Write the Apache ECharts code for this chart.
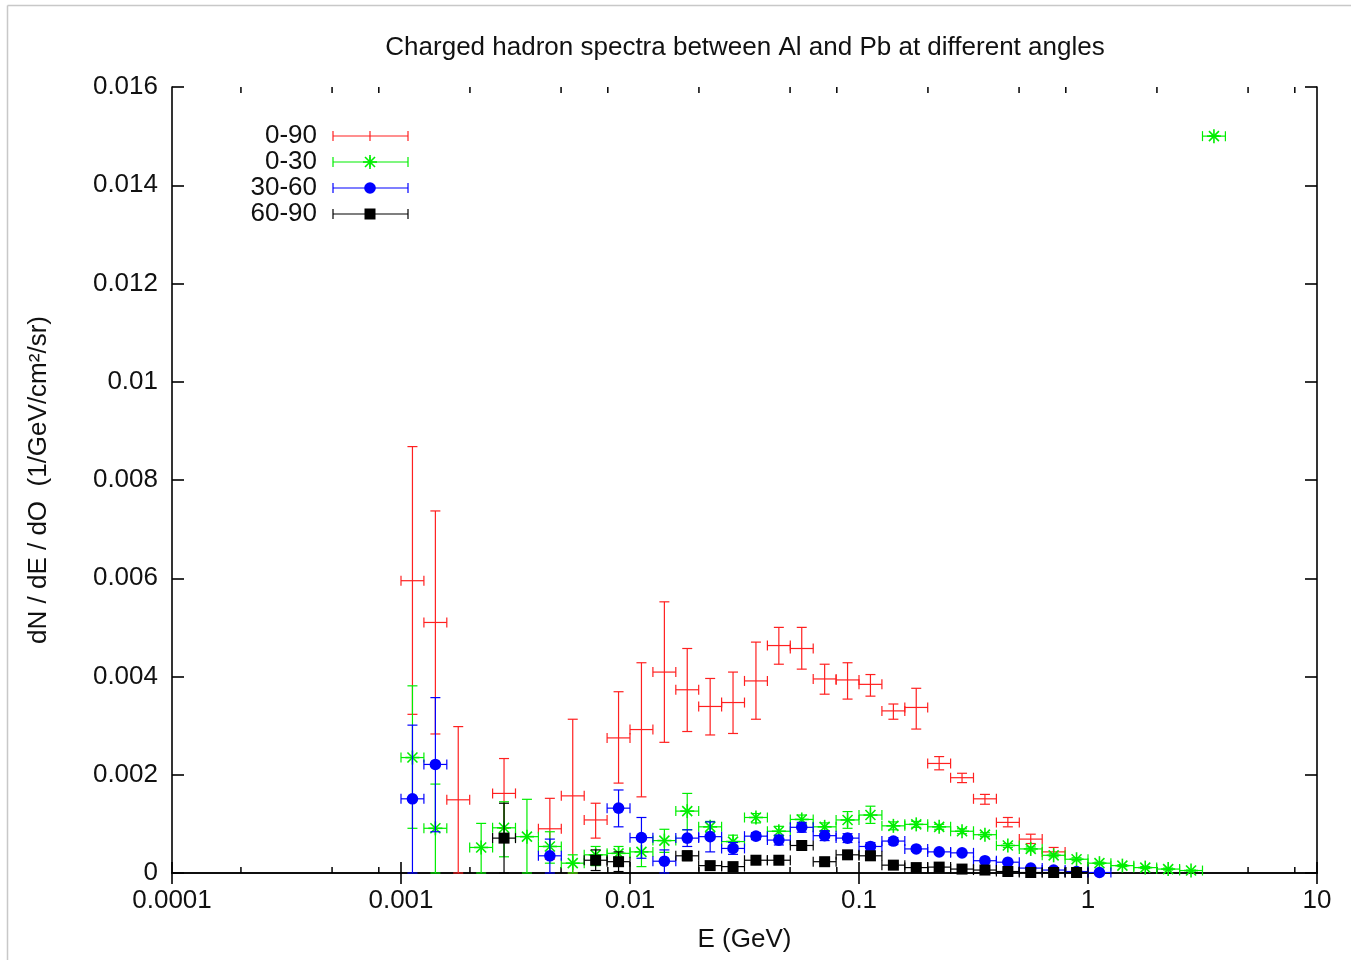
<!DOCTYPE html>
<html>
<head>
<meta charset="utf-8">
<title>Charged hadron spectra</title>
<script src="https://cdn.jsdelivr.net/npm/echarts@6/dist/echarts.min.js"></script>
<style>
  html, body { margin: 0; padding: 0; background: #fff; }
  #main { width: 1351px; height: 960px; }
</style>
</head>
<body>
<div id="main"></div>
<script>
// energy bins (GeV): centre and edges of each bin
var binCenter = [0.001122, 0.001413, 0.001778, 0.002239, 0.002818, 0.003548, 0.004467, 0.005623, 0.007079, 0.008913,
                 0.01122, 0.01413, 0.01778, 0.02239, 0.02818, 0.03548, 0.04467, 0.05623, 0.07079, 0.08913,
                 0.1122, 0.1413, 0.1778, 0.2239, 0.2818, 0.3548, 0.4467, 0.5623, 0.7079, 0.8913,
                 1.122, 1.413, 1.778, 2.239, 2.818, 3.548];
var binEdges = [0.001, 0.001259, 0.001585, 0.001995, 0.002512, 0.003162, 0.003981, 0.005012, 0.00631, 0.007943,
                0.01, 0.01259, 0.01585, 0.01995, 0.02512, 0.03162, 0.03981, 0.05012, 0.0631, 0.07943,
                0.1, 0.1259, 0.1585, 0.1995, 0.2512, 0.3162, 0.3981, 0.5012, 0.631, 0.7943,
                1, 1.259, 1.585, 1.995, 2.512, 3.162, 3.981];

// 0-90
var red_y  = [0.00595, 0.00510, 0.00149, null, 0.00162, null, 0.00090, 0.00157, 0.00108, 0.00275,
              0.00292, 0.00409, 0.00373, 0.00339, 0.00347, 0.00391, 0.00463, 0.00457, 0.00395, 0.00393,
              0.00384, 0.00330, 0.00337, 0.00223, 0.00194, 0.00151, 0.00103, 0.00069, 0.00043];
var red_lo = [0.00323, 0.00283, 0, null, 0.00091, null, 0.00028, 0, 0.00071, 0.00183,
              0.00155, 0.00266, 0.00288, 0.00281, 0.00284, 0.00313, 0.00425, 0.00415, 0.00364, 0.00354,
              0.00360, 0.00313, 0.00293, 0.00210, 0.00184, 0.00140, 0.00094, 0.00060, 0.00036];
var red_hi = [0.00868, 0.00737, 0.00298, null, 0.00233, null, 0.00152, 0.00313, 0.00142, 0.00369,
              0.00428, 0.00552, 0.00457, 0.00396, 0.00409, 0.00470, 0.00500, 0.00500, 0.00425, 0.00428,
              0.00404, 0.00344, 0.00376, 0.00237, 0.00203, 0.00160, 0.00113, 0.00079, 0.00052];

// 0-30
var green_y  = [0.00235, 0.00091, null, 0.00052, 0.00092, 0.00074, 0.00054, 0.00020, 0.00037, 0.00040,
                0.00043, 0.00066, 0.00126, 0.00094, 0.00064, 0.00113, 0.00085, 0.00109, 0.00094, 0.00108,
                0.00118, 0.00096, 0.00099, 0.00094, 0.00085, 0.00078, 0.00056, 0.00049, 0.00036, 0.00028,
                0.00020, 0.00015, 0.00011, 0.00008, 0.00005, 0.01500];
var green_lo = [0.00091, 0, null, 0, 0.00033, 0, 0.00020, 0, 0.00015, 0.00020,
                0.00013, 0.00042, 0.00088, 0.00083, 0.00054, 0.00102, 0.00075, 0.00098, 0.00086, 0.00091,
                0.00101, 0.00088, 0.00093, 0.00089, 0.00080, 0.00074, 0.00052, 0.00045, 0.00033, 0.00025,
                0.00018, 0.00013, 0.00009, 0.00006, 0.00004, 0.01500];
var green_hi = [0.00381, 0.00181, null, 0.00101, 0.00145, 0.00150, 0.00084, 0.00037, 0.00054, 0.00054,
                0.00074, 0.00089, 0.00162, 0.00105, 0.00077, 0.00121, 0.00095, 0.00118, 0.00102, 0.00125,
                0.00136, 0.00104, 0.00105, 0.00099, 0.00090, 0.00082, 0.00060, 0.00053, 0.00039, 0.00031,
                0.00022, 0.00017, 0.00013, 0.00010, 0.00006, 0.01500];

// 30-60
var blue_y  = [0.00151, 0.00221, null, null, null, null, 0.00035, null, null, 0.00132,
               0.00072, 0.00024, 0.00071, 0.00074, 0.00050, 0.00075, 0.00067, 0.00093, 0.00076, 0.00071,
               0.00054, 0.00065, 0.00049, 0.00043, 0.00041, 0.00025, 0.00022, 0.00010, 0.00006, 0.00003,
               0.00001];
var blue_lo = [0, 0.00084, null, null, null, null, 0, null, null, 0.00094,
               0.00030, 0, 0.00054, 0.00043, 0.00038, 0.00068, 0.00057, 0.00083, 0.00066, 0.00062,
               0.00046, 0.00058, 0.00044, 0.00039, 0.00037, 0.00022, 0.00019, 0.00008, 0.00005, 0.00002,
               0.00001];
var blue_hi = [0.00301, 0.00357, null, null, null, null, 0.00069, null, null, 0.00169,
               0.00113, 0.00047, 0.00088, 0.00104, 0.00062, 0.00082, 0.00077, 0.00103, 0.00086, 0.00080,
               0.00062, 0.00072, 0.00054, 0.00047, 0.00045, 0.00028, 0.00025, 0.00012, 0.00007, 0.00004,
               0.00001];

// 60-90
var black_y  = [null, null, null, null, 0.00071, null, null, null, 0.00026, 0.00023,
                null, null, 0.00035, 0.00015, 0.00013, 0.00026, 0.00026, 0.00056, 0.00023, 0.00037,
                0.00035, 0.00016, 0.00011, 0.00012, 0.00008, 0.00006, 0.00003, 0.00001, 0.00001, 0.00001];
var black_lo = [null, null, null, null, 0, null, null, null, 0.00005, 0.00003,
                null, null, 0.00025, 0.00008, 0.00007, 0.00021, 0.00021, 0.00049, 0.00019, 0.00032,
                0.00030, 0.00013, 0.00009, 0.00010, 0.00007, 0.00005, 0.00002, 0.00001, 0.00001, 0.00001];
var black_hi = [null, null, null, null, 0.00142, null, null, null, 0.00047, 0.00043,
                null, null, 0.00045, 0.00022, 0.00019, 0.00031, 0.00031, 0.00063, 0.00027, 0.00042,
                0.00040, 0.00019, 0.00013, 0.00014, 0.00009, 0.00007, 0.00004, 0.00001, 0.00001, 0.00001];

var minorTickVals = [0.0002, 0.0005, 0.0008, 0.002, 0.005, 0.008, 0.02, 0.05, 0.08,
                     0.2, 0.5, 0.8, 2, 5, 8];

var FONT = '"Liberation Sans", Arial, sans-serif';
var FS = 26;
var PLOT_L = 172, PLOT_R = 1317, PLOT_T = 87, PLOT_B = 873;

function build(ys, los, his) {
    var out = [];
    for (var k = 0; k < ys.length; k++) {
        if (ys[k] == null) continue;
        out.push([binCenter[k], ys[k], binEdges[k], binEdges[k + 1], los[k], his[k]]);
    }
    return out;
}

function seg(x1, y1, x2, y2, color) {
    return {type: 'line', shape: {x1: x1, y1: y1, x2: x2, y2: y2},
            style: {stroke: color, lineWidth: 1.2}};
}

function markerShapes(kind, cx, cy, color) {
    if (kind == 'star') {
        var s = 7, d = 5;
        return [
            {type: 'line', shape: {x1: cx - s, y1: cy, x2: cx + s, y2: cy}, style: {stroke: color, lineWidth: 1.6}},
            {type: 'line', shape: {x1: cx, y1: cy - s, x2: cx, y2: cy + s}, style: {stroke: color, lineWidth: 1.6}},
            {type: 'line', shape: {x1: cx - d, y1: cy - d, x2: cx + d, y2: cy + d}, style: {stroke: color, lineWidth: 1.6}},
            {type: 'line', shape: {x1: cx - d, y1: cy + d, x2: cx + d, y2: cy - d}, style: {stroke: color, lineWidth: 1.6}}
        ];
    }
    if (kind == 'circle')
        return [{type: 'circle', shape: {cx: cx, cy: cy, r: 5.8}, style: {fill: color}}];
    if (kind == 'square')
        return [{type: 'rect', shape: {x: cx - 5.5, y: cy - 5.5, width: 11, height: 11}, style: {fill: color}}];
    return [];
}

function errRender(color, kind) {
    return function (params, api) {
        var x = api.value(0), y = api.value(1);
        var c = api.coord([x, y]);
        var l = api.coord([api.value(2), y]);
        var r = api.coord([api.value(3), y]);
        var b = api.coord([x, api.value(4)]);
        var t = api.coord([x, api.value(5)]);
        var cap = 5;
        var kids = [
            seg(l[0], c[1], r[0], c[1], color),
            seg(l[0], c[1] - cap, l[0], c[1] + cap, color),
            seg(r[0], c[1] - cap, r[0], c[1] + cap, color),
            seg(c[0], t[1], c[0], b[1], color),
            seg(c[0] - cap, t[1], c[0] + cap, t[1], color),
            seg(c[0] - cap, b[1], c[0] + cap, b[1], color)
        ].concat(markerShapes(kind, c[0], c[1], color));
        return {type: 'group', children: kids};
    };
}

function minorTickRender(params, api) {
    var p = api.coord([api.value(0), 0]);
    var sys = params.coordSys;
    var len = 6;
    return {type: 'group', children: [
        {type: 'line', shape: {x1: p[0], y1: sys.y + sys.height, x2: p[0], y2: sys.y + sys.height - len},
         style: {stroke: '#000', lineWidth: 1.5}},
        {type: 'line', shape: {x1: p[0], y1: sys.y, x2: p[0], y2: sys.y + len},
         style: {stroke: '#000', lineWidth: 1.5}}
    ]};
}

var legendItems = [
    {name: '0-90', color: '#ff2020', kind: 'none'},
    {name: '0-30', color: '#00ee00', kind: 'star'},
    {name: '30-60', color: '#0000ff', kind: 'circle'},
    {name: '60-90', color: '#000000', kind: 'square'}
];

var legendGraphic = [];
legendItems.forEach(function (it, i) {
    var yy = 136 + i * 26;
    legendGraphic.push({type: 'text', x: 317, y: yy,
        style: {text: it.name, fill: '#111', font: FS + 'px ' + FONT, textAlign: 'right', textVerticalAlign: 'middle'}});
    legendGraphic.push({type: 'group', children: [
        seg(333, yy, 408, yy, it.color),
        seg(333, yy - 5, 333, yy + 5, it.color),
        seg(408, yy - 5, 408, yy + 5, it.color),
        seg(370, yy - 5, 370, yy + 5, it.color)
    ].concat(markerShapes(it.kind, 370, yy, it.color))});
});

var chart = echarts.init(document.getElementById('main'), null, {renderer: 'canvas'});

var axisLineStyle = {lineStyle: {color: '#000', width: 1.6}};
var option = {
    backgroundColor: '#fff',
    animation: false,
    grid: {left: PLOT_L, right: 1351 - PLOT_R, top: PLOT_T, bottom: 960 - PLOT_B},
    xAxis: [{
        type: 'log', logBase: 10, min: 0.0001, max: 10,
        name: 'E (GeV)', nameLocation: 'middle', nameGap: 54,
        nameTextStyle: {fontFamily: FONT, fontSize: FS, color: '#111'},
        axisLine: axisLineStyle,
        axisTick: {inside: true, length: 11, lineStyle: {color: '#000', width: 1.6}},
        axisLabel: {fontFamily: FONT, fontSize: FS, color: '#111', margin: 15,
                    formatter: function (v) { return String(+v.toPrecision(3)); }},
        splitLine: {show: false}
    }, {
        type: 'log', logBase: 10, min: 0.0001, max: 10, position: 'top',
        axisLine: axisLineStyle,
        axisTick: {inside: true, length: 11, lineStyle: {color: '#000', width: 1.6}},
        axisLabel: {show: false}, splitLine: {show: false}
    }],
    yAxis: [{
        type: 'value', min: 0, max: 0.016, interval: 0.002,
        name: 'dN / dE / dO  (1/GeV/cm\u00b2/sr)', nameLocation: 'middle', nameGap: 120,
        nameTextStyle: {fontFamily: FONT, fontSize: FS, color: '#111'},
        axisLine: {show: true, lineStyle: {color: '#000', width: 1.6}},
        axisTick: {show: true, inside: true, length: 12, lineStyle: {color: '#000', width: 1.6}},
        axisLabel: {fontFamily: FONT, fontSize: FS, color: '#111', margin: 14,
                    formatter: function (v) { return String(+v.toFixed(3)); }},
        splitLine: {show: false}
    }, {
        type: 'value', min: 0, max: 0.016, interval: 0.002, position: 'right',
        axisLine: {show: true, lineStyle: {color: '#000', width: 1.6}},
        axisTick: {show: true, inside: true, length: 12, lineStyle: {color: '#000', width: 1.6}},
        axisLabel: {show: false}, splitLine: {show: false}
    }],
    graphic: [
        {type: 'line', shape: {x1: 7.5, y1: 5.5, x2: 1351, y2: 5.5}, style: {stroke: '#c8c8c8', lineWidth: 1.5}},
        {type: 'line', shape: {x1: 7.5, y1: 5.5, x2: 7.5, y2: 960}, style: {stroke: '#c8c8c8', lineWidth: 1.5}},
        {type: 'text', x: 745, y: 48,
         style: {text: 'Charged hadron spectra between Al and Pb at different angles',
                 fill: '#111', font: FS + 'px ' + FONT, textAlign: 'center', textVerticalAlign: 'middle'}}
    ].concat(legendGraphic),
    series: [
        {type: 'custom', name: 'minor', renderItem: minorTickRender, data: minorTickVals.map(function (v) { return [v, 0]; }),
         encode: {x: 0, y: 1}, silent: true},
        {type: 'custom', name: '0-90', renderItem: errRender('#ff2020', 'none'),
         data: build(red_y, red_lo, red_hi), encode: {x: 0, y: 1}},
        {type: 'custom', name: '0-30', renderItem: errRender('#00ee00', 'star'),
         data: build(green_y, green_lo, green_hi), encode: {x: 0, y: 1}},
        {type: 'custom', name: '30-60', renderItem: errRender('#0000ff', 'circle'),
         data: build(blue_y, blue_lo, blue_hi), encode: {x: 0, y: 1}},
        {type: 'custom', name: '60-90', renderItem: errRender('#000000', 'square'),
         data: build(black_y, black_lo, black_hi), encode: {x: 0, y: 1}}
    ]
};
chart.setOption(option);
</script>
</body>
</html>
